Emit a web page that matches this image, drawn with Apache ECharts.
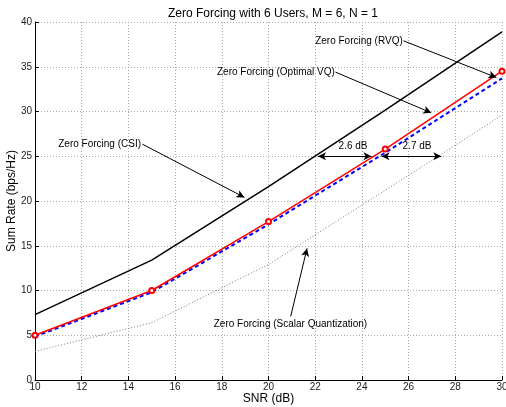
<!DOCTYPE html>
<html>
<head>
<meta charset="utf-8">
<title>Zero Forcing with 6 Users</title>
<script src="https://cdn.jsdelivr.net/npm/echarts@6/dist/echarts.min.js"></script>
<style>
  html, body { margin: 0; padding: 0; background: #fff; }
  #chart { width: 506px; height: 407px; }
</style>
</head>
<body>
<div id="chart"></div>
<script type="text/javascript">
// values
var snr = [10, 15, 20, 25, 30];
var csi = [7.3, 13.4, 21.6, 30.15, 38.9];
var optVq = [5.0, 10.0, 17.7, 25.8, 34.5];
var rvq = [4.85, 9.8, 17.4, 25.4, 33.7];
var scalarQ = [3.2, 6.4, 12.9, 21.2, 29.6];

// annotations (data coordinates)
var noteTexts = ['Zero Forcing (CSI)', 'Zero Forcing (RVQ)', 'Zero Forcing (Optimal VQ)',
                 'Zero Forcing (Scalar Quantization)', '2.6 dB', '2.7 dB'];
var noteAt = [[14.54, 26.37], [25.75, 37.9], [22.84, 34.4], [20.94, 6.18], [23.62, 26.1], [26.36, 26.1]];
var arrows = [[[14.6, 26.35], [18.97, 20.4]], [[25.78, 37.9], [29.76, 33.8]],
              [[22.87, 34.4], [26.97, 29.85]], [[20.95, 7.1], [21.65, 14.7]]];
var dbArrows = [[[22.12, 25], [24.41, 25]], [[24.84, 25], [27.4, 25]]];

function pairs(ys) {
  return snr.map(function (x, i) { return [x, ys[i]]; });
}

var font = 'Liberation Sans, Arial, Helvetica, sans-serif';

var lines = [];
arrows.forEach(function (a) {
  lines.push([{ coord: a[0], symbol: 'none' }, { coord: a[1], symbol: 'arrow' }]);
});
dbArrows.forEach(function (a) {
  lines.push([{ coord: a[0], symbol: 'arrow' }, { coord: a[1], symbol: 'arrow' }]);
});

var points = noteTexts.map(function (t, i) {
  return {
    coord: noteAt[i],
    label: { formatter: t, position: i < 3 ? 'left' : 'inside', distance: 0 }
  };
});

var chart = echarts.init(document.getElementById('chart'));
chart.setOption({
  animation: false,
  backgroundColor: '#fff',
  title: {
    text: 'Zero Forcing with 6 Users, M = 6, N = 1',
    left: 268, top: 3, textAlign: 'center',
    textStyle: { fontFamily: font, fontSize: 12, fontWeight: 'normal', color: '#000' }
  },
  grid: { left: 35, right: 4, top: 22, bottom: 27, containLabel: false, outerBoundsMode: 'none' },
  xAxis: {
    type: 'value', min: 10, max: 30, interval: 2,
    name: 'SNR (dB)', nameLocation: 'middle', nameGap: 13, nameMoveOverlap: false,
    nameTextStyle: { fontFamily: font, fontSize: 12, color: '#000' },
    axisLine: { lineStyle: { color: '#000', width: 1 } },
    axisTick: { inside: true, length: 4, lineStyle: { color: '#000' } },
    axisLabel: { fontFamily: font, fontSize: 10, color: '#222', margin: 2 },
    splitLine: { show: true, lineStyle: { color: '#aaa', type: [1, 2], width: 1 } }
  },
  yAxis: {
    type: 'value', min: 0, max: 40, interval: 5,
    name: 'Sum Rate (bps/Hz)', nameLocation: 'middle', nameGap: 17, nameRotate: 90,
    nameMoveOverlap: false,
    nameTextStyle: { fontFamily: font, fontSize: 12, color: '#000' },
    axisLine: { show: true, lineStyle: { color: '#000', width: 1 } },
    axisTick: { show: true, inside: true, length: 4, lineStyle: { color: '#000' } },
    axisLabel: { fontFamily: font, fontSize: 10, color: '#222', margin: 3 },
    splitLine: { show: true, lineStyle: { color: '#aaa', type: [1, 2], width: 1 } }
  },
  series: [
    {
      name: 'Zero Forcing (Scalar Quantization)', type: 'line', data: pairs(scalarQ),
      symbol: 'none', lineStyle: { color: '#777', width: 1, type: [1, 2] }
    },
    {
      name: 'Zero Forcing (CSI)', type: 'line', data: pairs(csi),
      symbol: 'none', lineStyle: { color: '#000', width: 1.5 },
      markLine: {
        silent: true, symbolSize: [6, 8], label: { show: false },
        lineStyle: { color: '#000', width: 1, type: 'solid' },
        emphasis: { disabled: true },
        data: lines
      },
      markPoint: {
        silent: true, symbol: 'circle', symbolSize: 0,
        label: { show: true, fontFamily: font, fontSize: 10, color: '#000' },
        data: points
      }
    },
    {
      name: 'Zero Forcing (RVQ)', type: 'line', data: pairs(rvq),
      symbol: 'none', lineStyle: { color: '#0000ff', width: 2, type: [4, 3] }
    },
    {
      name: 'Zero Forcing (Optimal VQ)', type: 'line', data: pairs(optVq),
      symbol: 'emptyCircle', symbolSize: 5, showAllSymbol: true,
      itemStyle: { color: '#ff0000', borderWidth: 1.5 },
      lineStyle: { color: '#ff0000', width: 1.5 }
    }
  ]
});
</script>
</body>
</html>
